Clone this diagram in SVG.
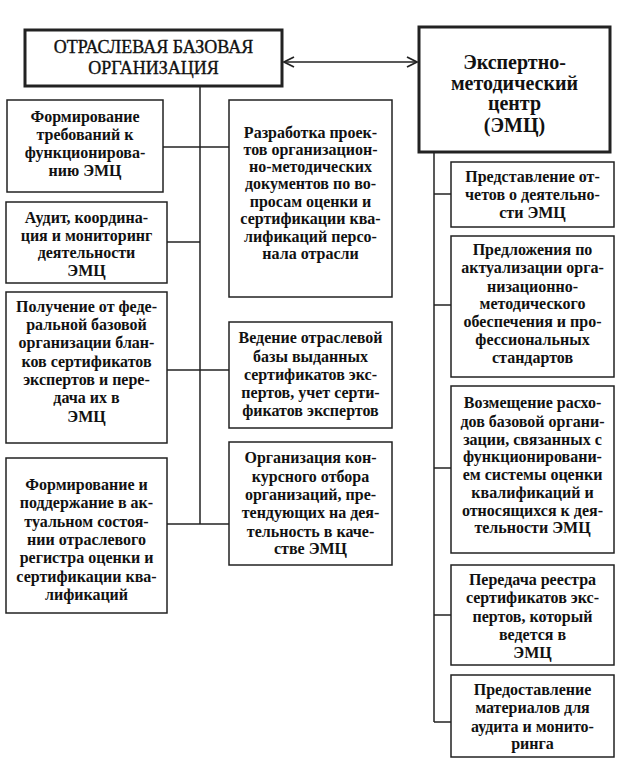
<svg xmlns="http://www.w3.org/2000/svg" width="623" height="767" viewBox="0 0 623 767">
<style>
.box{fill:#fff;stroke:#222;stroke-width:1.5}
.hbox{fill:#fff;stroke:#222;stroke-width:3}
.t{font-family:"Liberation Serif","Times New Roman","DejaVu Serif",serif;font-size:16px;font-weight:bold;fill:#111;text-anchor:middle}
.h1{font-family:"Liberation Serif","Times New Roman","DejaVu Serif",serif;font-size:18px;fill:#111;stroke:#111;stroke-width:0.35;text-anchor:middle}
.h2{font-family:"Liberation Serif","Times New Roman","DejaVu Serif",serif;font-size:20px;font-weight:bold;fill:#111;text-anchor:middle}
.ln{stroke:#222;stroke-width:1.5;fill:none}
</style>
<defs>
<marker id="ah" viewBox="0 0 12 12" refX="11" refY="6" markerWidth="12" markerHeight="12" markerUnits="userSpaceOnUse" orient="auto-start-reverse">
<path d="M1,1 L11,6 L1,11" fill="none" stroke="#222" stroke-width="1.8"/>
</marker>
</defs>
<rect width="623" height="767" fill="#fff"/>
<g id="connectors">
<line class="ln" x1="200" y1="86" x2="200" y2="524"/>
<line class="ln" x1="163" y1="147" x2="229" y2="147"/>
<line class="ln" x1="167" y1="242" x2="200" y2="242"/>
<line class="ln" x1="167" y1="370" x2="229" y2="370"/>
<line class="ln" x1="167" y1="524" x2="229" y2="524"/>
<line class="ln" x1="434" y1="152" x2="434" y2="722"/>
<line class="ln" x1="434" y1="194" x2="451" y2="194"/>
<line class="ln" x1="434" y1="305" x2="451" y2="305"/>
<line class="ln" x1="434" y1="468" x2="451" y2="468"/>
<line class="ln" x1="434" y1="615" x2="451" y2="615"/>
<line class="ln" x1="434" y1="722" x2="451" y2="722"/>
<line class="ln" x1="284" y1="62" x2="417" y2="62" marker-start="url(#ah)" marker-end="url(#ah)"/>
</g>
<g id="obo">
<rect class="hbox" x="25" y="30" width="257" height="56"/>
<text class="h1" x="153.5" y="53">ОТРАСЛЕВАЯ БАЗОВАЯ</text>
<text class="h1" x="153.5" y="74">ОРГАНИЗАЦИЯ</text>
</g>
<g id="emc">
<rect class="hbox" x="419" y="27" width="191" height="125"/>
<text class="h2" x="514.5" y="69">Экспертно-</text>
<text class="h2" x="514.5" y="90">методический</text>
<text class="h2" x="514.5" y="110">центр</text>
<text class="h2" x="514.5" y="132">(ЭМЦ)</text>
</g>
<g id="l1">
<rect class="box" x="7" y="100" width="156" height="92"/>
<text class="t" x="85" y="122">Формирование</text>
<text class="t" x="85" y="140">требований к</text>
<text class="t" x="85" y="158">функционирова-</text>
<text class="t" x="85" y="176">нию ЭМЦ</text>
</g>
<g id="l2">
<rect class="box" x="6" y="202" width="161" height="81"/>
<text class="t" x="86.5" y="223">Аудит, координа-</text>
<text class="t" x="86.5" y="241">ция и мониторинг</text>
<text class="t" x="86.5" y="258">деятельности</text>
<text class="t" x="86.5" y="276">ЭМЦ</text>
</g>
<g id="l3">
<rect class="box" x="6" y="292" width="161" height="151"/>
<text class="t" x="86.5" y="312">Получение от феде-</text>
<text class="t" x="86.5" y="330">ральной базовой</text>
<text class="t" x="86.5" y="348">организации блан-</text>
<text class="t" x="86.5" y="367">ков сертификатов</text>
<text class="t" x="86.5" y="385">экспертов и пере-</text>
<text class="t" x="86.5" y="403">дача их в</text>
<text class="t" x="86.5" y="422">ЭМЦ</text>
</g>
<g id="l4">
<rect class="box" x="6" y="458" width="161" height="155"/>
<text class="t" x="86.5" y="490">Формирование и</text>
<text class="t" x="86.5" y="508">поддержание в ак-</text>
<text class="t" x="86.5" y="527">туальном состоя-</text>
<text class="t" x="86.5" y="545">нии отраслевого</text>
<text class="t" x="86.5" y="563">регистра оценки и</text>
<text class="t" x="86.5" y="582">сертификации ква-</text>
<text class="t" x="86.5" y="600">лификаций</text>
</g>
<g id="m1">
<rect class="box" x="229" y="100" width="163" height="197"/>
<text class="t" x="310.5" y="138">Разработка проек-</text>
<text class="t" x="310.5" y="155">тов организацион-</text>
<text class="t" x="310.5" y="172">но-методических</text>
<text class="t" x="310.5" y="189">документов по во-</text>
<text class="t" x="310.5" y="207">просам оценки и</text>
<text class="t" x="310.5" y="224">сертификации ква-</text>
<text class="t" x="310.5" y="242">лификаций персо-</text>
<text class="t" x="310.5" y="259">нала отрасли</text>
</g>
<g id="m2">
<rect class="box" x="229" y="322" width="163" height="106"/>
<text class="t" x="310.5" y="343">Ведение отраслевой</text>
<text class="t" x="310.5" y="362">базы выданных</text>
<text class="t" x="310.5" y="380">сертификатов экс-</text>
<text class="t" x="310.5" y="398">пертов, учет серти-</text>
<text class="t" x="310.5" y="416">фикатов экспертов</text>
</g>
<g id="m3">
<rect class="box" x="229" y="442" width="163" height="123"/>
<text class="t" x="310.5" y="463">Организация кон-</text>
<text class="t" x="310.5" y="482">курсного отбора</text>
<text class="t" x="310.5" y="500">организаций, пре-</text>
<text class="t" x="310.5" y="518">тендующих на дея-</text>
<text class="t" x="310.5" y="537">тельность в каче-</text>
<text class="t" x="310.5" y="554">стве ЭМЦ</text>
</g>
<g id="r1">
<rect class="box" x="451" y="162" width="163" height="65"/>
<text class="t" x="532.5" y="182">Представление от-</text>
<text class="t" x="532.5" y="200">четов о деятельно-</text>
<text class="t" x="532.5" y="218">сти ЭМЦ</text>
</g>
<g id="r2">
<rect class="box" x="451" y="236" width="163" height="141"/>
<text class="t" x="532.5" y="255">Предложения по</text>
<text class="t" x="532.5" y="273">актуализации орга-</text>
<text class="t" x="532.5" y="292">низационно-</text>
<text class="t" x="532.5" y="309">методического</text>
<text class="t" x="532.5" y="327">обеспечения и про-</text>
<text class="t" x="532.5" y="345">фессиональных</text>
<text class="t" x="532.5" y="363">стандартов</text>
</g>
<g id="r3">
<rect class="box" x="451" y="386" width="163" height="167"/>
<text class="t" x="532.5" y="408">Возмещение расхо-</text>
<text class="t" x="532.5" y="427">дов базовой органи-</text>
<text class="t" x="532.5" y="445">зации, связанных с</text>
<text class="t" x="532.5" y="462">функционировани-</text>
<text class="t" x="532.5" y="480">ем системы оценки</text>
<text class="t" x="532.5" y="498">квалификаций и</text>
<text class="t" x="532.5" y="516">относящихся к дея-</text>
<text class="t" x="532.5" y="533">тельности ЭМЦ</text>
</g>
<g id="r4">
<rect class="box" x="451" y="565" width="163" height="100"/>
<text class="t" x="532.5" y="585">Передача реестра</text>
<text class="t" x="532.5" y="603">сертификатов экс-</text>
<text class="t" x="532.5" y="622">пертов, который</text>
<text class="t" x="532.5" y="640">ведется в</text>
<text class="t" x="532.5" y="658">ЭМЦ</text>
</g>
<g id="r5">
<rect class="box" x="451" y="675" width="163" height="82"/>
<text class="t" x="532.5" y="695">Предоставление</text>
<text class="t" x="532.5" y="713">материалов для</text>
<text class="t" x="532.5" y="732">аудита и монито-</text>
<text class="t" x="532.5" y="749">ринга</text>
</g>
</svg>
